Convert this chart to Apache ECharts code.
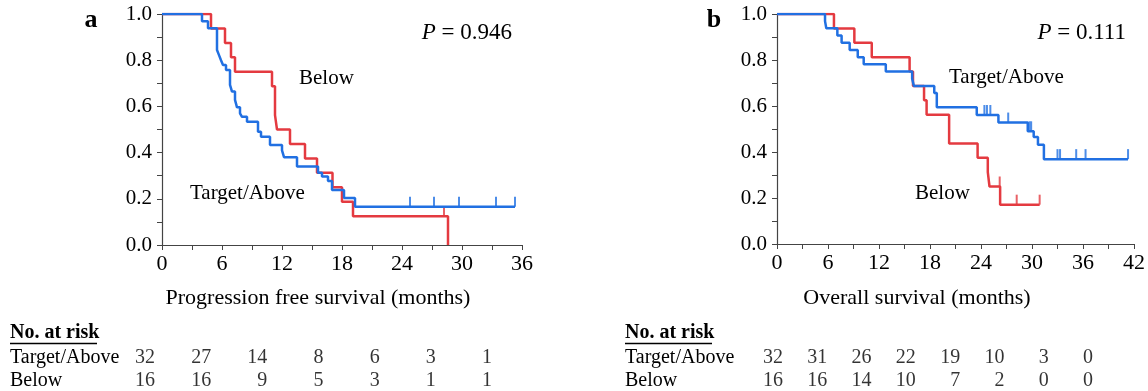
<!DOCTYPE html>
<html>
<head>
<meta charset="UTF-8">
<title>Kaplan-Meier curves</title>
<script src="https://cdn.jsdelivr.net/npm/echarts/dist/echarts.min.js"></script>
<style>
  body { margin: 0; background: #fff; }
  #main { width: 1148px; height: 391px; }
</style>
</head>
<body>
<div id="main"></div>
<script>
// panel a - progression free survival
var pfsAboveTime = [0, 4.0, 4.6, 5.5, 5.7, 5.9, 6.1, 6.4, 6.8, 7.0, 7.3, 7.5, 7.8, 8.0, 8.5, 9.6, 9.9, 10.8, 12.0, 12.2, 13.5, 15.6, 16.0, 16.6, 17.0, 18.2, 19.3];
var pfsAboveSurv = [1, 0.969, 0.938, 0.844, 0.822, 0.80, 0.779, 0.758, 0.693, 0.664, 0.628, 0.596, 0.570, 0.555, 0.534, 0.49, 0.469, 0.433, 0.41, 0.38, 0.34, 0.313, 0.297, 0.277, 0.238, 0.203, 0.166];
var pfsAboveCensor = [24.8, 27.2, 29.7, 33.4, 35.3];
var pfsAboveEnd = 35.3;

var pfsBelowTime = [0, 4.9, 6.3, 6.9, 7.3, 11.0, 11.3, 11.5, 12.8, 14.3, 15.5, 17.05, 18.0, 19.1, 28.6];
var pfsBelowSurv = [1, 0.9375, 0.875, 0.8125, 0.75, 0.6875, 0.5625, 0.5, 0.4375, 0.375, 0.3125, 0.25, 0.1875, 0.125, 0];
var pfsBelowCensor = [28.2];
var pfsBelowEnd = 28.6;

// panel b - overall survival
var osAboveTime = [0, 5.65, 5.8, 7.1, 7.6, 8.55, 9.5, 10.2, 12.8, 15.9, 16.1, 18.5, 18.8, 23.5, 26.05, 29.5, 30.2, 30.7, 31.4];
var osAboveSurv = [1, 0.969, 0.938, 0.906, 0.875, 0.844, 0.8125, 0.781, 0.75, 0.719, 0.6875, 0.656, 0.595, 0.561, 0.528, 0.49, 0.465, 0.431, 0.369];
var osAboveCensor = [24.4, 24.7, 25.1, 27.2, 29.7, 29.9, 33.0, 33.3, 35.2, 36.3, 41.3];
var osAboveEnd = 41.3;

var osBelowTime = [0, 6.7, 9.1, 11.15, 15.6, 16.0, 17.3, 17.6, 20.25, 23.6, 24.8, 25.0, 26.25];
var osBelowSurv = [1, 0.9375, 0.875, 0.8125, 0.75, 0.6875, 0.625, 0.5625, 0.4375, 0.375, 0.3125, 0.25, 0.171];
var osBelowCensor = [26.2, 28.2, 30.9];
var osBelowEnd = 30.9;

// number at risk
var pfsRiskTime = [0, 6, 12, 18, 24, 30, 36];
var pfsRiskAbove = [32, 27, 14, 8, 6, 3, 1];
var pfsRiskBelow = [16, 16, 9, 5, 3, 1, 1];
var osRiskTime = [0, 6, 12, 18, 24, 30, 36, 42];
var osRiskAbove = [32, 31, 26, 22, 19, 10, 3, 0];
var osRiskBelow = [16, 16, 14, 10, 7, 2, 0, 0];

var RED = '#e43a40';
var BLUE = '#2170e2';
var FONT = '"Liberation Serif", "Times New Roman", serif';

function curve(times, surv, end) {
    var d = times.map(function (t, i) { return [t, surv[i]]; });
    d.push([end, surv[surv.length - 1]]);
    return d;
}
// value of the step curve at time t
function survAt(times, surv, t) {
    var s = surv[0];
    for (var i = 0; i < times.length; i++) {
        if (times[i] <= t) s = surv[i];
    }
    return s;
}
function censorPts(times, surv, cens) {
    return cens.map(function (t) { return [t, survAt(times, surv, t)]; });
}
function riskPts(times, above, below) {
    var d = [];
    times.forEach(function (t, i) {
        d.push([t, 1, above[i]]);
        d.push([t, 0, below[i]]);
    });
    return d;
}

function plotX(idx, max) {
    return {
        gridIndex: idx, type: 'value', min: 0, max: max, interval: 3,
        axisLine: { lineStyle: { color: '#444', width: 1.2 } },
        axisTick: { length: 5, lineStyle: { color: '#444' } },
        axisLabel: {
            margin: 8, color: '#000', fontSize: 22, fontFamily: FONT,
            formatter: function (v) { return v % 6 === 0 ? String(v) : ''; }
        },
        splitLine: { show: false }
    };
}
function plotY(idx) {
    return {
        gridIndex: idx, type: 'value', min: 0, max: 1, interval: 0.1,
        axisLine: { show: true, lineStyle: { color: '#444', width: 1.2 } },
        axisTick: { show: true, length: 5, lineStyle: { color: '#444' } },
        axisLabel: {
            margin: 10, color: '#000', fontSize: 21, fontFamily: FONT,
            formatter: function (v) {
                var k = Math.round(v * 10);
                return k % 2 === 0 ? (k / 10).toFixed(1) : '';
            }
        },
        splitLine: { show: false }
    };
}
function riskX(idx, max) {
    return { gridIndex: idx, type: 'value', min: 0, max: max, show: false };
}
function riskY(idx, margin) {
    return {
        gridIndex: idx, type: 'value', min: 0, max: 1, interval: 1,
        axisLine: { show: false }, axisTick: { show: false }, splitLine: { show: false },
        axisLabel: {
            margin: margin, align: 'left', color: '#000', fontSize: 20, fontFamily: FONT,
            formatter: function (v) { return v === 1 ? 'Target/Above' : 'Below'; }
        }
    };
}
function kmLine(name, x, data, color) {
    return {
        name: name, type: 'line', xAxisIndex: x, yAxisIndex: x, step: 'end',
        data: data, symbol: 'none', lineStyle: { color: color, width: 2.5 },
        animation: false
    };
}
function censorSeries(x, data, color) {
    return {
        type: 'scatter', xAxisIndex: x, yAxisIndex: x, data: data,
        symbol: 'rect', symbolSize: [2, 10], symbolOffset: [0, -5],
        itemStyle: { color: color }, animation: false
    };
}
function riskSeries(x, data) {
    return {
        type: 'scatter', xAxisIndex: x, yAxisIndex: x, data: data,
        symbolSize: 1, itemStyle: { color: 'rgba(0,0,0,0)' },
        label: {
            show: true, position: 'inside', align: 'right', color: '#000',
            fontSize: 20, fontFamily: FONT,
            formatter: function (p) { return String(p.value[2]); }
        },
        animation: false
    };
}
function txt(text, x, y, size, opts) {
    var st = {
        text: text, x: x, y: y, fill: '#000',
        font: (opts && opts.weight ? opts.weight + ' ' : '') + size + 'px ' + FONT,
        align: (opts && opts.align) || 'left', verticalAlign: 'middle'
    };
    if (opts && opts.rich) st.rich = opts.rich;
    var el = { type: 'text', style: st, z: 100 };
    if (opts && opts.rotation) el.rotation = opts.rotation;
    return el;
}
var italicP = { i: { fontStyle: 'italic', fontSize: 23, fontFamily: FONT } };

var chart = echarts.init(document.getElementById('main'), null, { renderer: 'canvas' });
chart.setOption({
    backgroundColor: '#fff',
    animation: false,
    grid: [
        { left: 162, top: 14, width: 360, height: 231 },
        { left: 777, top: 14, width: 362, height: 230 },
        { left: 155, top: 358, width: 337, height: 23 },
        { left: 783, top: 358, width: 310, height: 23 }
    ],
    xAxis: [plotX(0, 36), plotX(1, 42), riskX(2, 36), riskX(3, 42)],
    yAxis: [plotY(0), plotY(1), riskY(2, 145), riskY(3, 158)],
    series: [
        kmLine('Below', 0, curve(pfsBelowTime, pfsBelowSurv, pfsBelowEnd), RED),
        censorSeries(0, censorPts(pfsBelowTime, pfsBelowSurv, pfsBelowCensor), RED),
        kmLine('Target/Above', 0, curve(pfsAboveTime, pfsAboveSurv, pfsAboveEnd), BLUE),
        censorSeries(0, censorPts(pfsAboveTime, pfsAboveSurv, pfsAboveCensor), BLUE),
        kmLine('Below', 1, curve(osBelowTime, osBelowSurv, osBelowEnd), RED),
        censorSeries(1, censorPts(osBelowTime, osBelowSurv, osBelowCensor), RED),
        kmLine('Target/Above', 1, curve(osAboveTime, osAboveSurv, osAboveEnd), BLUE),
        censorSeries(1, censorPts(osAboveTime, osAboveSurv, osAboveCensor), BLUE),
        riskSeries(2, riskPts(pfsRiskTime, pfsRiskAbove, pfsRiskBelow)),
        riskSeries(3, riskPts(osRiskTime, osRiskAbove, osRiskBelow))
    ],
    graphic: [
        txt('a', 91, 20, 26, { weight: 'bold', align: 'center' }),
        txt('b', 714, 20, 26, { weight: 'bold', align: 'center' }),
        txt('Probability', 91, 130, 22, { align: 'center', rotation: Math.PI / 2 }),
        txt('Probability', 706, 130, 22, { align: 'center', rotation: Math.PI / 2 }),
        txt('{i|P} = 0.946', 512, 33, 23, { align: 'right', rich: italicP }),
        txt('{i|P} = 0.111', 1126, 33, 23, { align: 'right', rich: italicP }),
        txt('Below', 299, 78, 21),
        txt('Target/Above', 190, 193, 21),
        txt('Target/Above', 949, 77, 21),
        txt('Below', 915, 193, 21),
        txt('Progression free survival (months)', 318, 298, 22, { align: 'center' }),
        txt('Overall survival (months)', 917, 298, 22, { align: 'center' }),
        txt('No. at risk', 10, 333, 20, { weight: 'bold' }),
        txt('No. at risk', 625, 333, 20, { weight: 'bold' }),
        { type: 'line', shape: { x1: 10, y1: 343.5, x2: 97, y2: 343.5 }, style: { stroke: '#000', lineWidth: 1.5 } },
        { type: 'line', shape: { x1: 625, y1: 343.5, x2: 712, y2: 343.5 }, style: { stroke: '#000', lineWidth: 1.5 } }
    ]
});
</script>
</body>
</html>
